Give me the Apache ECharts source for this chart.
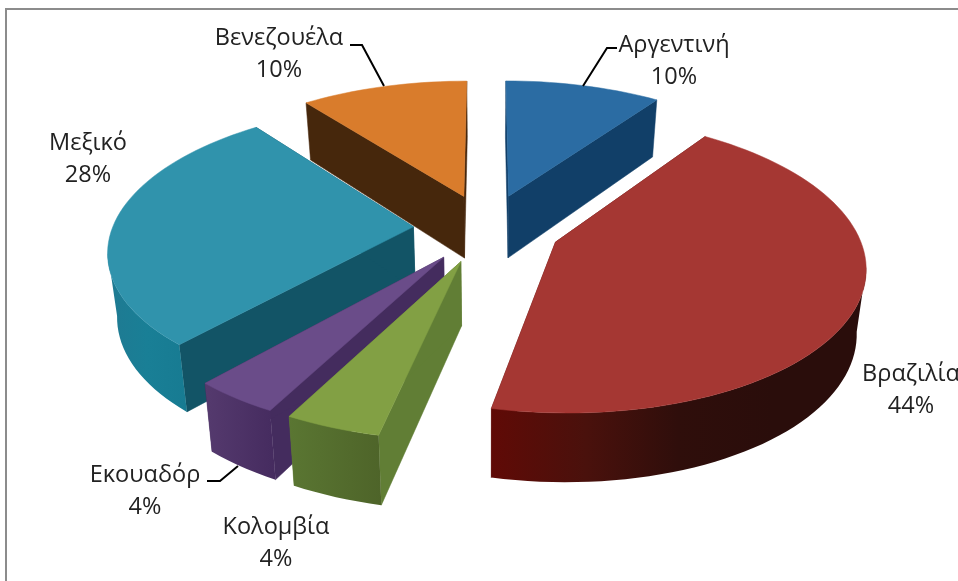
<!DOCTYPE html>
<html><head><meta charset="utf-8">
<style>html,body{margin:0;padding:0;background:#fff}#c{width:958px;height:581px}</style>
<script src="https://cdn.jsdelivr.net/npm/echarts@6/dist/echarts.min.js"></script>
</head><body><div id="c"></div>
<script>
// --- data ---
var categories = ['Αργεντινή','Βραζιλία','Κολομβία','Εκουαδόρ','Μεξικό','Βενεζουέλα'];
var values = [9.8,43.6,4.3,3.9,27.9,10.5];
var percentLabels = ['10%','44%','4%','4%','28%','10%'];

// --- styles ---
var topColors  = ['#2b6ca3','#a53733','#82a044','#6a4c89','#3093ac','#d97c2c'];
var sideColors = ['#113f68','#5a0d0a','#617e35','#442c5e','#125466','#46270c'];
var wallStops  = [
  ['#113f68','#113f68'],
  ['#600a06','#4a110c','#2f0e0b','#2a0d0b','#2a0d0b'],
  ['#5a7632','#4e6429'],
  ['#553a6e','#452b5f'],
  ['#1f7a92','#197f96','#177b92'],
  ['#46270c','#46270c']
];
var drawRank = [1,5,4,3,2,0];
var labelPos = [[674,61],[911,390],[276,543],[145,491],[88,159],[279,54]];
var leaders = [
  [[617,48],[607,48],[583,86]],
  null, null,
  [[207,481],[220,481],[238,466]],
  null,
  [[350,45],[362,45],[384,86]]
];

// --- projection parameters ---
var CX=487, CY=228, A=301, B=141, K=0.148, EXPLODE=0.245, DEPTH=63;
var toRad=Math.PI/180;
var total=values.reduce(function(a,b){return a+b;},0);

function proj(u,v,z){
  var s=1/(1+K*v);
  var x=A*u*s, y=-B*v*s;
  return [CX+x*(1-0.025*z), CY+y+z*DEPTH*(1-0.09*v)];
}

function renderItem(params,api){
  var i=params.dataIndex;
  var before=0; for(var j=0;j<i;j++) before+=values[j];
  var a0=before/total*360, a1=(before+api.value(0))/total*360, mid=(a0+a1)/2;
  var ex=EXPLODE*Math.sin(mid*toRad), ev=EXPLODE*Math.cos(mid*toRad);
  var arc=[], n=Math.max(6,Math.round((a1-a0)/2));
  for(var k=0;k<=n;k++){
    var a=(a0+(a1-a0)*k/n)*toRad;
    arc.push([ex+Math.sin(a),ev+Math.cos(a)]);
  }
  var rank=drawRank[i]*10, kids=[];
  function poly(pts,fill,z2){
    kids.push({type:'polygon',shape:{points:pts},z2:z2,silent:true,
      style:{fill:fill,stroke:typeof fill==='string'?fill:null,lineWidth:typeof fill==='string'?0.5:0}});
  }
  // radial faces
  [arc[0],arc[n]].forEach(function(e){
    poly([proj(ex,ev,0),proj(e[0],e[1],0),proj(e[0],e[1],1),proj(ex,ev,1)],sideColors[i],rank+1);
  });
  // front-facing outer wall
  var front=[];
  for(k=0;k<n;k++){
    var p=proj(arc[k][0],arc[k][1],0), q=proj(arc[k+1][0],arc[k+1][1],0);
    if(q[0]<p[0]){ if(!front.length) front.push(arc[k]); front.push(arc[k+1]); }
  }
  if(front.length){
    var upper=front.map(function(e){return proj(e[0],e[1],0);});
    var lower=front.map(function(e){return proj(e[0],e[1],1);}).reverse();
    var st=wallStops[i].map(function(c,m,arr){return {offset:m/(arr.length-1),color:c};});
    poly(upper.concat(lower),new echarts.graphic.LinearGradient(0,0,1,0,st),rank+2);
  }
  // top
  var topPts=[proj(ex,ev,0)].concat(arc.map(function(e){return proj(e[0],e[1],0);}));
  poly(topPts,topColors[i],rank+3);
  // leader
  if(leaders[i]) kids.push({type:'polyline',shape:{points:leaders[i]},z2:100,silent:true,
    style:{fill:null,stroke:'#000',lineWidth:2}});
  // label
  kids.push({type:'text',x:labelPos[i][0],y:labelPos[i][1],z2:101,silent:true,
    style:{text:categories[i]+'\n'+percentLabels[i],fill:'#222',
      font:'23.5px "Open Sans","Noto Sans",sans-serif',lineHeight:32,align:'center',verticalAlign:'middle'}});
  return {type:'group',children:kids};
}

var chart=echarts.init(document.getElementById('c'),null,{renderer:'canvas'});
chart.setOption({
  animation:false,
  backgroundColor:'#fff',
  graphic:[{type:'rect',shape:{x:6,y:9,width:1000,height:700},silent:true,
    style:{fill:'none',stroke:'#8c8c8c',lineWidth:2}}],
  series:[{
    type:'custom',coordinateSystem:'none',clip:false,
    renderItem:renderItem,
    data:values.map(function(v,i){return {value:[v],name:categories[i]};})
  }]
});
</script></body></html>
